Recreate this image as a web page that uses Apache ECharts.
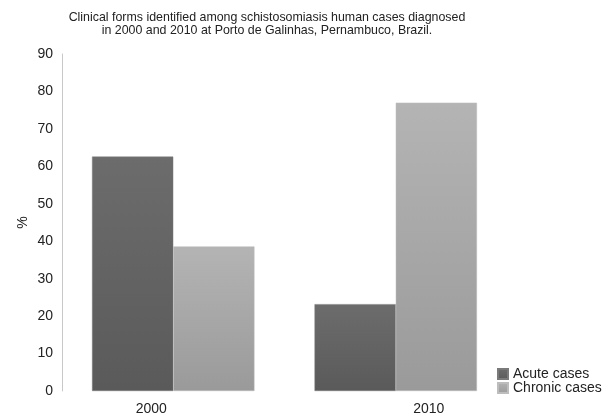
<!DOCTYPE html>
<html>
<head>
<meta charset="utf-8">
<script src="https://cdn.jsdelivr.net/npm/echarts@6/dist/echarts.min.js"></script>
<style>
  html, body { margin: 0; padding: 0; background: #fff; }
  #chart { width: 616px; height: 416px; }
</style>
</head>
<body>
<div id="chart"></div>
<script>
// data
const years = ['2000', '2010']
const acute = [62.6, 23.2]
const chronic = [38.6, 77.0]
const seriesNames = ['Acute cases', 'Chronic cases']

const chart = echarts.init(document.getElementById('chart'))

const grad = (top, bottom) => new echarts.graphic.LinearGradient(0, 0, 0, 1, [
  { offset: 0, color: top },
  { offset: 1, color: bottom }
])

const option = {
  animation: false,
  textStyle: { fontFamily: 'Liberation Sans, Arial, sans-serif' },
  title: {
    text: 'Clinical forms identified among schistosomiasis human cases diagnosed\nin 2000 and 2010 at Porto de Galinhas, Pernambuco, Brazil.',
    left: 262,
    top: 6,
    textAlign: 'center',
    textStyle: { fontSize: 12.4, fontWeight: 'normal', color: '#222', lineHeight: 13 }
  },
  legend: {
    orient: 'vertical',
    left: 492,
    top: 362,
    itemWidth: 10,
    itemHeight: 10,
    itemGap: 0,
    icon: 'rect',
    textStyle: { fontSize: 14, lineHeight: 14, color: '#222' },
    data: seriesNames
  },
  grid: { left: 62, right: 109, top: 54, bottom: 23 },
  xAxis: {
    type: 'category',
    data: years,
    axisLine: { show: false },
    axisTick: { show: false },
    axisLabel: {
      margin: 11,
      fontSize: 14,
      color: '#222',
      formatter: (v, i) => i === 0 ? '{a|' + v + '}' : '{b|' + v + '}',
      rich: {
        a: { fontSize: 14, color: '#222', padding: [0, 44, 0, 0] },
        b: { fontSize: 14, color: '#222', padding: [0, 0, 0, 66] }
      }
    }
  },
  yAxis: {
    type: 'value',
    min: 0,
    max: 90,
    interval: 10,
    name: '%',
    nameLocation: 'middle',
    nameGap: 32,
    nameMoveOverlap: false,
    nameRotate: 90,
    nameTextStyle: { fontSize: 14, color: '#222' },
    axisLine: { show: true, lineStyle: { color: '#c8c8c8' } },
    axisTick: { show: false },
    splitLine: { show: false },
    axisLabel: { fontSize: 14, color: '#222', margin: 9 }
  },
  series: [
    {
      name: seriesNames[0],
      type: 'bar',
      data: acute,
      barGap: '0%',
      barCategoryGap: '27%',
      itemStyle: {
        color: grad('#6c6c6c', '#5a5a5a'),
        borderColor: '#7a7a7a',
        borderWidth: 0.5
      }
    },
    {
      name: seriesNames[1],
      type: 'bar',
      data: chronic,
      itemStyle: {
        color: grad('#b4b4b4', '#9a9a9a'),
        borderColor: '#bdbdbd',
        borderWidth: 0.5
      }
    }
  ]
}

chart.setOption(option)
</script>
</body>
</html>
